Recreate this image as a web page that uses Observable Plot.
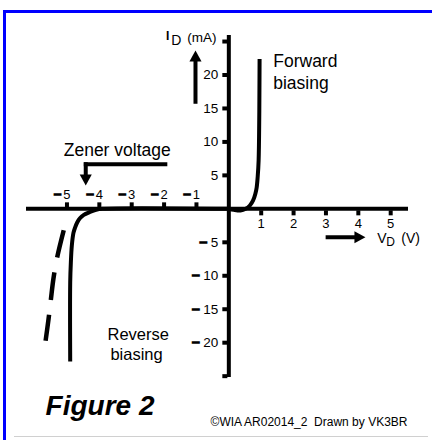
<!DOCTYPE html>
<html><head><meta charset="utf-8">
<script src="https://cdn.jsdelivr.net/npm/d3@7"></script>
<script src="https://cdn.jsdelivr.net/npm/@observablehq/plot@0.6"></script>
<style>
html,body{margin:0;padding:0;background:#fff;}
#wrap{position:relative;width:432px;height:440px;overflow:hidden;}
#chart{position:absolute;left:0;top:0;}
#frame{position:absolute;left:3px;top:10px;width:440px;height:440px;border-top:3px solid #0000ff;border-left:3px solid #0000ff;pointer-events:none;}
#rule{position:absolute;left:14px;width:414px;top:436px;height:1px;background:#d0d0d0;}
</style></head><body>
<div id="wrap"><div id="chart"></div><div id="frame"></div><div id="rule"></div></div>
<script>
// ---- data ----
const xTicksNeg = [-5, -4, -3, -2, -1];
const xTicksPos = [1, 2, 3, 4, 5];
const yTicks = [-25, -20, -15, -10, -5, 5, 10, 15, 20, 25];
const yTickLabels = [-20, -15, -10, -5, 5, 10, 15, 20];

// forward-biased characteristic (V, mA)
const forwardV = [0, 0.15, 0.36, 0.52, 0.65, 0.75, 0.82, 0.86, 0.89, 0.92, 0.95];
const forwardI = [0, -0.15, -0.25, 0, 0.5, 1.25, 2.25, 3.2, 4.7, 7.2, 22.4];

// reverse-biased characteristic with Zener breakdown (V, mA)
const reverseV = [0, -3.9, -4.1, -4.3, -4.48, -4.6, -4.68, -4.75, -4.8, -4.85, -4.88, -4.9, -4.9];
const reverseI = [0, 0, -0.15, -0.5, -0.9, -1.4, -2.0, -2.8, -3.6, -5.5, -8, -11, -22.8];

// dashed breakdown curve (V, mA)
const breakdownV = [-5.10, -5.30, -5.42, -5.50, -5.57, -5.66];
const breakdownI = [-3.2, -7.2, -10.5, -13.7, -16.5, -19.7];

// annotation arrows (data coordinates)
const arrowX1 = [-1.03, 2.99, -4.42];
const arrowY1 = [15.7, -4.25, 6.97];
const arrowX2 = [-1.03, 4.22, -4.42];
const arrowY2 = [23.66, -4.25, 3.48];
const arrowRotate = [0, 90, 180];

const forward = forwardV.map((v, i) => ({v, i: forwardI[i]}));
const reverse = reverseV.map((v, i) => ({v, i: reverseI[i]}));
const breakdown = breakdownV.map((v, i) => ({v, i: breakdownI[i]}));
const arrows = arrowX1.map((x1, k) => ({x1, y1: arrowY1[k], x2: arrowX2[k], y2: arrowY2[k], r: arrowRotate[k]}));

const font = "'Liberation Sans', Arial, Helvetica, sans-serif";
const nub = {draw(ctx, l) { ctx.moveTo(0, 0); ctx.lineTo(0, -l); }};
const tri = {draw(ctx, l) { const w = l * 0.55; ctx.moveTo(-w, 0); ctx.lineTo(0, -l); ctx.lineTo(w, 0); ctx.closePath(); }};
const minusStyle = {stroke: "black", strokeWidth: 1.6, strokeLinejoin: "miter"};

const plot = Plot.plot({
  width: 432, height: 440,
  marginLeft: 26, marginRight: 24, marginTop: 35, marginBottom: 63,
  x: {domain: [-6.25, 5.55], axis: null},
  y: {domain: [-25.2, 25.9], axis: null},
  style: {background: "transparent", fontFamily: font, overflow: "visible", color: "black"},
  marks: [
    // axes
    Plot.ruleY([0], {strokeWidth: 4}),
    Plot.ruleX([0], {strokeWidth: 4}),
    // tick nubs
    Plot.vector(xTicksNeg, {x: d => d, y: 0, length: 5, rotate: 0, anchor: "start", shape: nub, strokeWidth: 4, strokeLinecap: "butt", dy: -1.5}),
    Plot.vector(xTicksPos, {x: d => d, y: 0, length: 5, rotate: 180, anchor: "start", shape: nub, strokeWidth: 4, strokeLinecap: "butt", dy: 1.5}),
    Plot.vector(yTicks, {x: 0, y: d => d, length: 5, rotate: -90, anchor: "start", shape: nub, strokeWidth: 4, strokeLinecap: "butt", dx: -1.5}),
    // tick labels
    Plot.text(xTicksNeg, {x: d => d, y: 0, text: d => String(Math.abs(d)), dy: -10, lineAnchor: "bottom", fontSize: 13}),
    Plot.text(xTicksNeg, {x: d => d, y: 0, text: () => "\u2212", dy: -10, dx: -5.5, textAnchor: "end", lineAnchor: "bottom", fontSize: 13, ...minusStyle}),
    Plot.text(xTicksPos, {x: d => d, y: 0, text: d => String(d), dy: 19.5, lineAnchor: "bottom", fontSize: 13}),
    Plot.text(yTickLabels, {x: 0, y: d => d, text: d => String(Math.abs(d)), textAnchor: "end", dx: -10.5, fontSize: 13.5}),
    Plot.text(yTickLabels.filter(d => d < 0 && d > -10), {x: 0, y: d => d, text: () => "\u2212", textAnchor: "end", dx: -21.5, fontSize: 13.5, ...minusStyle}),
    Plot.text(yTickLabels.filter(d => d <= -10), {x: 0, y: d => d, text: () => "\u2212", textAnchor: "end", dx: -29, fontSize: 13.5, ...minusStyle}),
    // curves
    Plot.line(breakdown, {x: "v", y: "i", curve: "catmull-rom", strokeWidth: 4.5, strokeDasharray: "28,15", strokeLinecap: "butt"}),
    Plot.line(reverse, {x: "v", y: "i", curve: "catmull-rom", strokeWidth: 4, strokeLinecap: "butt"}),
    Plot.line(forward, {x: "v", y: "i", curve: "catmull-rom", strokeWidth: 4, strokeLinecap: "butt"}),
    // arrows
    Plot.link([{x1: -1.90, x2: -4.48, y: 6.67}], {x1: "x1", x2: "x2", y1: "y", y2: "y", strokeWidth: 4, strokeLinecap: "butt"}),
    Plot.arrow(arrows, {x1: "x1", y1: "y1", x2: "x2", y2: "y2", headLength: 0, insetEnd: 6, strokeWidth: 4, strokeLinecap: "butt"}),
    Plot.vector(arrows, {x: "x2", y: "y2", rotate: "r", length: 11, anchor: "end", shape: tri, fill: "black", stroke: "none"}),
    // axis titles
    Plot.text(["I"], {x: 0, y: 25.16, dx: -59.5, text: d => d, textAnchor: "end", lineAnchor: "bottom", fontSize: 12, fontWeight: "bold", fill: "#000"}),
    Plot.text(["D"], {x: 0, y: 24.41, dx: -57.6, text: d => d, textAnchor: "start", lineAnchor: "bottom", fontSize: 14}),
    Plot.text(["(mA)"], {x: 0, y: 24.93, dx: -41.6, text: d => d, textAnchor: "start", lineAnchor: "bottom", fontSize: 13.5}),
    Plot.text(["V"], {x: 4.585, y: -5.04, text: d => d, textAnchor: "start", lineAnchor: "bottom", fontSize: 14}),
    Plot.text(["D"], {x: 4.585, y: -5.6, dx: 9, text: d => d, textAnchor: "start", lineAnchor: "bottom", fontSize: 12}),
    Plot.text(["(V)"], {x: 4.585, y: -5.1, dx: 24, text: d => d, textAnchor: "start", lineAnchor: "bottom", fontSize: 14}),
    // annotations
    Plot.text(["Forward"], {x: 1.372, y: 21.17, text: d => d, textAnchor: "start", lineAnchor: "bottom", fontSize: 17.5}),
    Plot.text(["biasing"], {x: 1.372, y: 17.98, text: d => d, textAnchor: "start", lineAnchor: "bottom", fontSize: 17.5}),
    Plot.text(["Zener voltage"], {x: -5.10, y: 7.97, text: d => d, textAnchor: "start", lineAnchor: "bottom", fontSize: 17.5}),
    Plot.text(["Reverse"], {x: -2.80, y: -19.55, text: d => d, textAnchor: "middle", lineAnchor: "bottom", fontSize: 16.5}),
    Plot.text(["biasing"], {x: -2.85, y: -22.55, text: d => d, textAnchor: "middle", lineAnchor: "bottom", fontSize: 16.5}),
    Plot.text(["Figure 2"], {x: -5.66, y: -30.75, text: d => d, textAnchor: "start", lineAnchor: "bottom", fontSize: 28, fontWeight: "bold", fontStyle: "italic"}),
    Plot.text(["\u00A9WIA AR02014_2  Drawn by VK3BR"], {x: -0.565, y: -32.47, text: d => d, textAnchor: "start", lineAnchor: "bottom", fontSize: 12})
  ]
});
document.getElementById("chart").appendChild(plot);
</script>
</body></html>
